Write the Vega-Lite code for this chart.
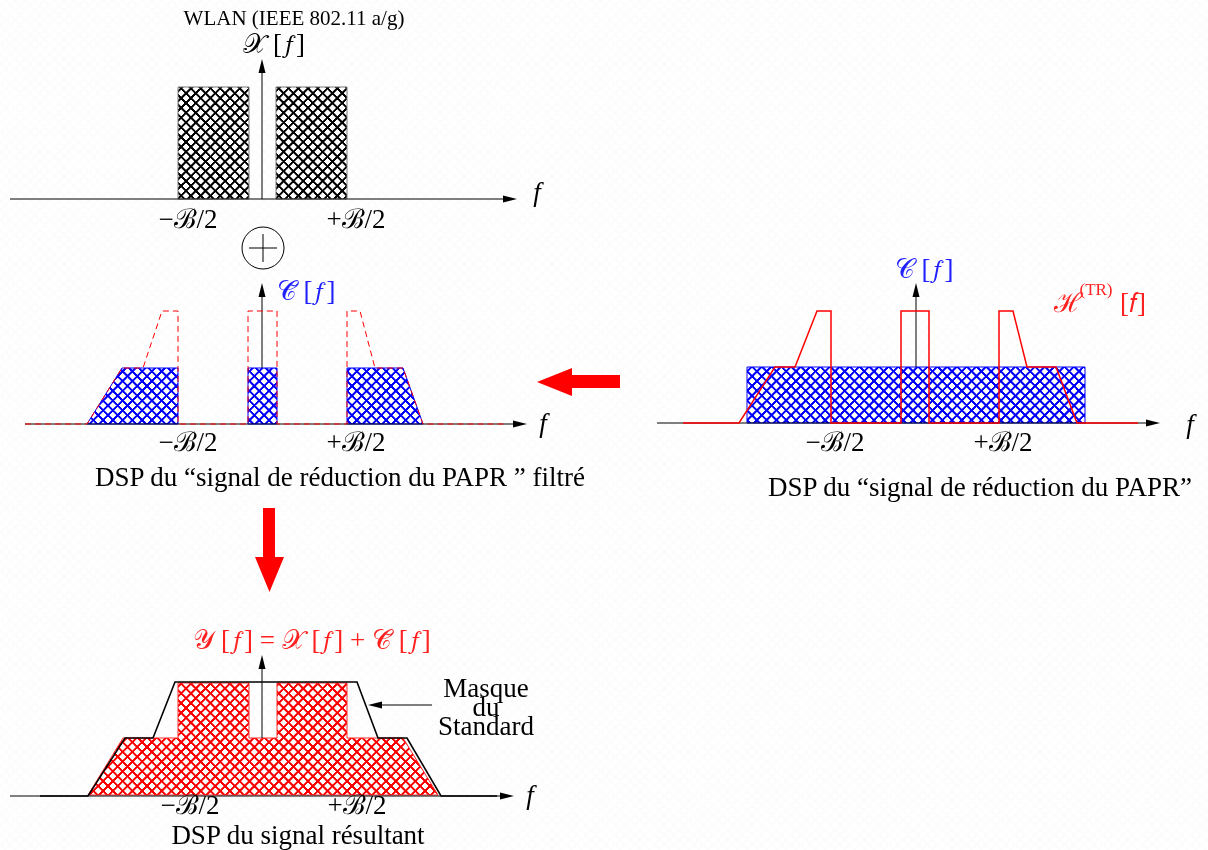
{
  "$schema": "https://vega.github.io/schema/vega-lite/v6.json",
  "width": 1208,
  "height": 850,
  "padding": 0,
  "autosize": {"type": "none"},
  "background": "white",
  "config": {"view": {"stroke": null, "fill": "white"}, "axis": {"disable": true}},
  "datasets": {
    "hatch": [
      {"x": 4, "y": 1025, "x2": 1204, "y2": -175},
      {"x": 4, "y": -175, "x2": 1204, "y2": 1025}
    ],
    "shapes": [
      {"g": "X", "part": "x1", "x": 178, "y": 87, "y2": 199},
      {"g": "X", "part": "x1", "x": 249, "y": 87, "y2": 199},
      {"g": "X", "part": "x2", "x": 276, "y": 87, "y2": 199},
      {"g": "X", "part": "x2", "x": 347, "y": 87, "y2": 199},
      {"g": "Ct", "part": "ct1", "x": 87, "y": 424, "y2": 424},
      {"g": "Ct", "part": "ct1", "x": 122, "y": 368, "y2": 424},
      {"g": "Ct", "part": "ct1", "x": 178, "y": 368, "y2": 424},
      {"g": "Ct", "part": "ct2", "x": 248, "y": 368, "y2": 424},
      {"g": "Ct", "part": "ct2", "x": 277, "y": 368, "y2": 424},
      {"g": "Ct", "part": "ct3", "x": 347, "y": 368, "y2": 424},
      {"g": "Ct", "part": "ct3", "x": 403, "y": 368, "y2": 424},
      {"g": "Ct", "part": "ct3", "x": 423, "y": 424, "y2": 424},
      {"g": "C", "part": "c1", "x": 747, "y": 367, "y2": 423},
      {"g": "C", "part": "c1", "x": 1085, "y": 367, "y2": 423},
      {"g": "Y", "part": "y1", "x": 88, "y": 795, "y2": 795},
      {"g": "Y", "part": "y1", "x": 123, "y": 738, "y2": 795},
      {"g": "Y", "part": "y1", "x": 178, "y": 738, "y2": 795},
      {"g": "Y", "part": "y1", "x": 178, "y": 683, "y2": 795},
      {"g": "Y", "part": "y1", "x": 249, "y": 683, "y2": 795},
      {"g": "Y", "part": "y1", "x": 249, "y": 738, "y2": 795},
      {"g": "Y", "part": "y1", "x": 277, "y": 738, "y2": 795},
      {"g": "Y", "part": "y1", "x": 277, "y": 683, "y2": 795},
      {"g": "Y", "part": "y1", "x": 347, "y": 683, "y2": 795},
      {"g": "Y", "part": "y1", "x": 347, "y": 738, "y2": 795},
      {"g": "Y", "part": "y1", "x": 403, "y": 738, "y2": 795},
      {"g": "Y", "part": "y1", "x": 438, "y": 795, "y2": 795}
    ],
    "curves": [
      {"g": "h2", "i": 1, "x": 25, "y": 424},
      {"g": "h2", "i": 2, "x": 87, "y": 424},
      {"g": "h2", "i": 3, "x": 122, "y": 368},
      {"g": "h2", "i": 4, "x": 143, "y": 368},
      {"g": "h2", "i": 5, "x": 162, "y": 311},
      {"g": "h2", "i": 6, "x": 178, "y": 311},
      {"g": "h2", "i": 7, "x": 178, "y": 424},
      {"g": "h2", "i": 8, "x": 248, "y": 424},
      {"g": "h2", "i": 9, "x": 248, "y": 311},
      {"g": "h2", "i": 10, "x": 277, "y": 311},
      {"g": "h2", "i": 11, "x": 277, "y": 424},
      {"g": "h2", "i": 12, "x": 347, "y": 424},
      {"g": "h2", "i": 13, "x": 347, "y": 311},
      {"g": "h2", "i": 14, "x": 360, "y": 311},
      {"g": "h2", "i": 15, "x": 375, "y": 368},
      {"g": "h2", "i": 16, "x": 403, "y": 368},
      {"g": "h2", "i": 17, "x": 423, "y": 424},
      {"g": "h2", "i": 18, "x": 505, "y": 424},
      {"g": "h3", "i": 1, "x": 683, "y": 423},
      {"g": "h3", "i": 2, "x": 739, "y": 423},
      {"g": "h3", "i": 3, "x": 775, "y": 367},
      {"g": "h3", "i": 4, "x": 795, "y": 367},
      {"g": "h3", "i": 5, "x": 817, "y": 311},
      {"g": "h3", "i": 6, "x": 831, "y": 311},
      {"g": "h3", "i": 7, "x": 831, "y": 423},
      {"g": "h3", "i": 8, "x": 901, "y": 423},
      {"g": "h3", "i": 9, "x": 901, "y": 311},
      {"g": "h3", "i": 10, "x": 929, "y": 311},
      {"g": "h3", "i": 11, "x": 929, "y": 423},
      {"g": "h3", "i": 12, "x": 999, "y": 423},
      {"g": "h3", "i": 13, "x": 999, "y": 311},
      {"g": "h3", "i": 14, "x": 1013, "y": 311},
      {"g": "h3", "i": 15, "x": 1027, "y": 367},
      {"g": "h3", "i": 16, "x": 1056, "y": 367},
      {"g": "h3", "i": 17, "x": 1077, "y": 423},
      {"g": "h3", "i": 18, "x": 1138, "y": 423},
      {"g": "mask", "i": 1, "x": 40, "y": 796},
      {"g": "mask", "i": 2, "x": 88, "y": 796},
      {"g": "mask", "i": 3, "x": 125, "y": 738},
      {"g": "mask", "i": 4, "x": 153, "y": 738},
      {"g": "mask", "i": 5, "x": 175, "y": 682},
      {"g": "mask", "i": 6, "x": 357, "y": 682},
      {"g": "mask", "i": 7, "x": 378, "y": 738},
      {"g": "mask", "i": 8, "x": 407, "y": 738},
      {"g": "mask", "i": 9, "x": 441, "y": 796},
      {"g": "mask", "i": 10, "x": 497, "y": 796}
    ],
    "rules": [
      {"x": 10, "y": 199, "x2": 511, "y2": 199},
      {"x": 262, "y": 199, "x2": 262, "y2": 67},
      {"x": 25, "y": 424, "x2": 521, "y2": 424},
      {"x": 262, "y": 368, "x2": 262, "y2": 291},
      {"x": 657, "y": 423, "x2": 1154, "y2": 423},
      {"x": 916, "y": 367, "x2": 916, "y2": 291},
      {"x": 10, "y": 796, "x2": 508, "y2": 796},
      {"x": 262, "y": 738, "x2": 262, "y2": 663},
      {"x": 432, "y": 705, "x2": 374, "y2": 705},
      {"x": 249, "y": 248, "x2": 277, "y2": 248},
      {"x": 263, "y": 234, "x2": 263, "y2": 262}
    ],
    "heads": [
      {"x": 510, "y": 199, "d": "r"},
      {"x": 520, "y": 424, "d": "r"},
      {"x": 1153, "y": 423, "d": "r"},
      {"x": 507, "y": 796, "d": "r"},
      {"x": 262, "y": 66, "d": "u"},
      {"x": 262, "y": 290, "d": "u"},
      {"x": 916, "y": 290, "d": "u"},
      {"x": 262, "y": 662, "d": "u"},
      {"x": 375, "y": 705, "d": "l"}
    ],
    "arrowL": [
      {"x": 537, "y": 382, "y2": 382},
      {"x": 572, "y": 368, "y2": 396},
      {"x": 572, "y": 375, "y2": 388},
      {"x": 620, "y": 375, "y2": 388}
    ],
    "arrowD": [
      {"y": 508, "x": 263, "x2": 275},
      {"y": 557, "x": 263, "x2": 275},
      {"y": 557, "x": 255, "x2": 284},
      {"y": 592, "x": 269.5, "x2": 269.5}
    ],
    "labels": [
      {"x": 294, "y": 19, "t": "WLAN (IEEE 802.11 a/g)", "k": "title"},
      {"x": 274, "y": 45, "t": "𝒳 [𝑓]", "k": "m"},
      {"x": 188, "y": 220, "t": "−ℬ/2", "k": "m"},
      {"x": 356, "y": 220, "t": "+ℬ/2", "k": "m"},
      {"x": 188, "y": 443, "t": "−ℬ/2", "k": "m"},
      {"x": 356, "y": 443, "t": "+ℬ/2", "k": "m"},
      {"x": 835, "y": 443, "t": "−ℬ/2", "k": "m"},
      {"x": 1003, "y": 443, "t": "+ℬ/2", "k": "m"},
      {"x": 190, "y": 806, "t": "−ℬ/2", "k": "m"},
      {"x": 357, "y": 806, "t": "+ℬ/2", "k": "m"},
      {"x": 537, "y": 193, "t": "f", "k": "f"},
      {"x": 543, "y": 424, "t": "f", "k": "f"},
      {"x": 1190, "y": 425, "t": "f", "k": "f"},
      {"x": 530, "y": 796, "t": "f", "k": "f"},
      {"x": 306, "y": 292, "t": "𝒞̃ [𝑓]", "k": "b"},
      {"x": 924, "y": 270, "t": "𝒞 [𝑓]", "k": "b"},
      {"x": 1068, "y": 304, "t": "ℋ", "k": "r"},
      {"x": 1096, "y": 290, "t": "(TR)", "k": "s"},
      {"x": 1133, "y": 304, "t": "[𝑓]", "k": "r"},
      {"x": 312, "y": 641, "t": "𝒴 [𝑓] = 𝒳 [𝑓] + 𝒞̃ [𝑓]", "k": "r"},
      {"x": 340, "y": 478, "t": "DSP du “signal de réduction du PAPR ” filtré", "k": "cap"},
      {"x": 980, "y": 488, "t": "DSP du “signal de réduction du PAPR”", "k": "cap"},
      {"x": 298, "y": 836, "t": "DSP du signal résultant", "k": "cap"},
      {"x": 486, "y": 689, "t": "Masque", "k": "cap"},
      {"x": 486, "y": 708, "t": "du", "k": "cap"},
      {"x": 486, "y": 727, "t": "Standard", "k": "cap"}
    ]
  },
  "encoding": {
    "x": {"field": "x", "type": "quantitative", "scale": {"domain": [0, 1208], "nice": false, "zero": false}},
    "y": {"field": "y", "type": "quantitative", "scale": {"domain": [0, 850], "nice": false, "zero": false, "reverse": true}}
  },
  "layer": [
    {
      "data": {"name": "hatch"},
      "mark": {"type": "rule", "stroke": "#fcfcfc", "strokeWidth": 1600, "strokeDash": [2.0, 4.9], "strokeCap": "butt"},
      "encoding": {"x2": {"field": "x2"}, "y2": {"field": "y2"}}
    },
    {
      "data": {"name": "shapes"},
      "mark": {"type": "area", "blend": "color-burn", "opacity": 1, "fillOpacity": 1},
      "encoding": {
        "y2": {"field": "y2"},
        "detail": {"field": "part", "type": "nominal"},
        "fill": {"field": "g", "type": "nominal", "scale": {"domain": ["X", "Ct", "C", "Y"], "range": ["#030303", "#0303ff", "#0303ff", "#ff0303"]}, "legend": null}
      }
    },
    {
      "data": {"name": "shapes"},
      "mark": {"type": "area", "fillOpacity": 0, "strokeWidth": 1},
      "encoding": {
        "y2": {"field": "y2"},
        "detail": {"field": "part", "type": "nominal"},
        "stroke": {"field": "g", "type": "nominal", "scale": {"domain": ["X", "Ct", "C", "Y"], "range": ["#7a7a7a", "#0000ff", "#0000ff", "#ff2a2a"]}, "legend": null}
      }
    },
    {
      "data": {"name": "rules"},
      "mark": {"type": "rule", "color": "black", "strokeWidth": 1},
      "encoding": {"x2": {"field": "x2"}, "y2": {"field": "y2"}}
    },
    {
      "data": {"name": "curves"},
      "transform": [{"filter": "datum.g === 'h2'"}],
      "mark": {"type": "line", "color": "#ff0000", "strokeWidth": 1, "strokeDash": [6, 4]},
      "encoding": {"order": {"field": "i", "type": "quantitative"}}
    },
    {
      "data": {"name": "curves"},
      "transform": [{"filter": "datum.g === 'h3'"}],
      "mark": {"type": "line", "color": "#ff0000", "strokeWidth": 1.5},
      "encoding": {"order": {"field": "i", "type": "quantitative"}}
    },
    {
      "data": {"name": "curves"},
      "transform": [{"filter": "datum.g === 'mask'"}],
      "mark": {"type": "line", "color": "black", "strokeWidth": 1.6},
      "encoding": {"order": {"field": "i", "type": "quantitative"}}
    },
    {
      "data": {"name": "heads"},
      "transform": [{"filter": "datum.d === 'r'"}],
      "mark": {"type": "point", "shape": "M1,0L-1,-0.5L-1,0.5Z", "size": 196, "filled": true, "color": "black", "opacity": 1}
    },
    {
      "data": {"name": "heads"},
      "transform": [{"filter": "datum.d === 'u'"}],
      "mark": {"type": "point", "shape": "M0,-1L-0.5,1L0.5,1Z", "size": 196, "filled": true, "color": "black", "opacity": 1}
    },
    {
      "data": {"name": "heads"},
      "transform": [{"filter": "datum.d === 'l'"}],
      "mark": {"type": "point", "shape": "M-1,0L1,-0.5L1,0.5Z", "size": 196, "filled": true, "color": "black", "opacity": 1}
    },
    {
      "data": {"values": [{"x": 263, "y": 248}]},
      "mark": {"type": "point", "shape": "circle", "size": 1764, "filled": false, "stroke": "black", "strokeWidth": 1, "opacity": 1}
    },
    {
      "data": {"name": "arrowL"},
      "mark": {"type": "area", "color": "#ff0000", "opacity": 1},
      "encoding": {"y2": {"field": "y2"}}
    },
    {
      "data": {"name": "arrowD"},
      "mark": {"type": "area", "orient": "horizontal", "color": "#ff0000", "opacity": 1},
      "encoding": {"x2": {"field": "x2"}}
    },
    {
      "data": {"name": "labels"},
      "transform": [{"filter": "datum.k === 'title'"}],
      "mark": {"type": "text", "font": "Liberation Serif", "fontSize": 21, "color": "black", "align": "center", "baseline": "middle"},
      "encoding": {"text": {"field": "t"}}
    },
    {
      "data": {"name": "labels"},
      "transform": [{"filter": "datum.k === 'm'"}],
      "mark": {"type": "text", "font": "Liberation Serif", "fontSize": 27, "color": "black", "align": "center", "baseline": "middle"},
      "encoding": {"text": {"field": "t"}}
    },
    {
      "data": {"name": "labels"},
      "transform": [{"filter": "datum.k === 'f'"}],
      "mark": {"type": "text", "font": "Liberation Serif", "fontStyle": "italic", "fontSize": 27, "color": "black", "align": "center", "baseline": "middle"},
      "encoding": {"text": {"field": "t"}}
    },
    {
      "data": {"name": "labels"},
      "transform": [{"filter": "datum.k === 'b'"}],
      "mark": {"type": "text", "font": "Liberation Serif", "fontSize": 27, "color": "#2020ff", "align": "center", "baseline": "middle"},
      "encoding": {"text": {"field": "t"}}
    },
    {
      "data": {"name": "labels"},
      "transform": [{"filter": "datum.k === 'r'"}],
      "mark": {"type": "text", "font": "Liberation Serif", "fontSize": 27, "color": "#ff2020", "align": "center", "baseline": "middle"},
      "encoding": {"text": {"field": "t"}}
    },
    {
      "data": {"name": "labels"},
      "transform": [{"filter": "datum.k === 's'"}],
      "mark": {"type": "text", "font": "Liberation Serif", "fontSize": 17, "color": "#ff2020", "align": "center", "baseline": "middle"},
      "encoding": {"text": {"field": "t"}}
    },
    {
      "data": {"name": "labels"},
      "transform": [{"filter": "datum.k === 'cap'"}],
      "mark": {"type": "text", "font": "Liberation Serif", "fontSize": 27, "color": "black", "align": "center", "baseline": "middle"},
      "encoding": {"text": {"field": "t"}}
    }
  ]
}
